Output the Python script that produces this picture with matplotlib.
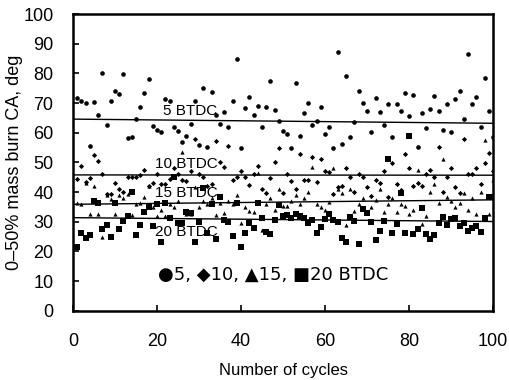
import numpy as np
import matplotlib
matplotlib.use("Agg")
import matplotlib.pyplot as plt

plt.rcParams['font.family'] = ['Liberation Sans Narrow', 'Liberation Sans', 'DejaVu Sans']

# Data (cycle 1..100)
cycles = np.arange(1, 101)

bt5 = [71.7, 70.7, 70.0, 55.6, 70.4, 66.0, 80.1, 62.6, 70.7, 74.0,
       73.0, 79.8, 58.2, 58.6, 64.6, 68.7, 73.4, 78.0, 62.3, 61.0,
       60.3, 71.4, 70.7, 62.0, 60.6, 57.0, 59.0, 63.0, 70.7, 55.9,
       75.0, 55.2, 73.7, 66.0, 63.0, 67.0, 62.0, 70.7, 84.8, 54.9,
       68.3, 72.0, 66.0, 69.0, 62.0, 68.7, 77.4, 67.7, 64.0, 60.6,
       59.6, 54.9, 76.8, 58.9, 66.7, 70.0, 62.5, 64.0, 68.7, 59.6,
       62.0, 54.9, 87.2, 56.2, 79.1, 58.6, 63.5, 74.0, 70.0, 67.3,
       60.3, 71.7, 67.0, 62.6, 69.7, 58.5, 69.7, 67.3, 73.4, 65.5,
       72.7, 55.2, 66.7, 61.6, 68.0, 72.4, 67.3, 60.9, 69.7, 60.3,
       71.4, 74.0, 64.6, 86.5, 69.7, 72.0, 62.0, 78.5, 67.3, 58.5]

bt10 = [44.4, 48.8, 43.4, 44.8, 52.5, 50.5, 46.0, 39.4, 39.4, 43.0,
        41.0, 40.0, 45.0, 45.0, 45.0, 45.8, 47.5, 42.0, 43.0, 46.0,
        42.8, 42.8, 44.4, 48.0, 46.0, 44.0, 43.7, 47.0, 57.9, 46.0,
        45.0, 42.0, 42.7, 57.2, 50.2, 48.5, 55.6, 44.0, 45.0, 47.1,
        45.0, 42.4, 46.0, 48.8, 41.0, 39.7, 44.8, 50.2, 54.9, 39.7,
        46.0, 43.7, 41.0, 52.9, 44.0, 44.0, 51.9, 43.4, 51.2, 47.1,
        46.8, 39.4, 41.8, 42.0, 48.0, 45.0, 40.0, 46.0, 45.0, 41.7,
        38.7, 44.0, 43.0, 47.0, 38.4, 49.8, 42.7, 40.7, 52.9, 48.1,
        42.0, 43.0, 42.0, 46.0, 47.5, 45.0, 55.2, 40.0, 45.0, 48.0,
        41.7, 39.7, 57.9, 46.0, 46.0, 48.1, 42.7, 49.8, 53.2, 47.0]

bt15 = [36.4, 36.0, 43.0, 32.7, 42.0, 32.7, 25.0, 39.0, 37.7, 32.7,
        39.0, 38.0, 39.4, 32.3, 36.0, 36.5, 38.4, 42.0, 35.0, 32.0,
        34.0, 32.0, 36.0, 35.0, 37.0, 53.5, 32.7, 32.7, 41.7, 35.0,
        37.0, 36.0, 38.0, 32.3, 36.5, 33.0, 37.0, 36.0, 39.0, 29.6,
        35.0, 33.7, 33.3, 46.5, 27.3, 36.0, 38.0, 34.0, 41.0, 35.4,
        35.4, 37.0, 39.0, 36.0, 38.0, 40.0, 48.5, 36.0, 35.0, 34.0,
        36.7, 48.1, 41.0, 39.7, 29.0, 41.0, 33.7, 36.0, 38.0, 33.0,
        35.0, 37.5, 41.0, 33.3, 36.0, 38.0, 33.3, 36.0, 35.4, 32.7,
        34.0, 47.5, 29.3, 32.0, 40.0, 42.7, 36.4, 51.2, 38.4, 37.0,
        35.0, 36.5, 39.7, 34.0, 38.0, 32.7, 40.0, 57.6, 32.7, 44.0]

bt20 = [21.5, 26.2, 24.6, 25.6, 37.0, 36.4, 27.6, 29.0, 25.0, 36.4,
        27.6, 30.3, 32.0, 40.0, 25.6, 29.0, 33.3, 35.0, 28.6, 36.0,
        23.2, 36.4, 31.3, 45.0, 29.6, 29.6, 33.3, 33.0, 23.2, 30.0,
        41.4, 26.2, 36.0, 24.2, 38.4, 30.6, 30.0, 25.3, 36.4, 21.5,
        26.2, 29.6, 28.0, 36.4, 31.3, 26.6, 25.9, 30.6, 35.7, 32.0,
        32.3, 31.3, 32.7, 32.0, 31.3, 29.6, 30.6, 26.2, 28.3, 31.0,
        32.7, 30.6, 30.0, 24.6, 23.2, 31.6, 30.3, 22.6, 34.3, 33.0,
        30.0, 23.9, 26.9, 30.3, 51.2, 26.2, 29.3, 39.7, 26.2, 58.9,
        25.9, 27.6, 34.7, 25.9, 24.2, 25.6, 29.6, 31.6, 29.0, 31.0,
        31.3, 28.6, 29.6, 26.9, 27.9, 28.6, 26.6, 31.3, 38.4, 38.4]

# trend lines (start at cycle 0, end at cycle 100)
trend_x = [0, 100]
trend5 = [64.6, 63.2]
trend10 = [45.8, 45.7]
trend15 = [35.9, 37.4]
trend20 = [31.4, 30.1]

labels = ['5 BTDC', '10 BTDC', '15 BTDC', '20 BTDC']
label_pos = [(21.4, 67.3), (19.5, 49.6), (19.5, 39.6), (19.5, 26.4)]

fig = plt.figure(figsize=(5.1, 3.8), dpi=100)
ax = fig.add_axes([0.143, 0.182, 0.824, 0.781])

ax.scatter(cycles, bt5, marker='o', s=11, c='black', linewidths=0)
ax.scatter(cycles, bt10, marker='D', s=7, c='black', linewidths=0)
ax.scatter(cycles, bt15, marker='^', s=9, c='black', linewidths=0)
ax.scatter(cycles, bt20, marker='s', s=16, c='black', linewidths=0)

for t in [trend5, trend10, trend15, trend20]:
    ax.plot(trend_x, t, color='black', lw=1.0)

for lab, (x, y) in zip(labels, label_pos):
    ax.text(x, y, lab, fontsize=11, va='center', ha='left')

ax.text(47.6, 12.1, '●5, ◆10, ▲15, ■20 BTDC', fontsize=13, ha='center', va='center',
        family=['Liberation Sans Narrow', 'DejaVu Sans'])

ax.set_xlim(0, 100)
ax.set_ylim(0, 100)
ax.set_xticks(range(0, 101, 20))
ax.set_yticks(range(0, 101, 10))
ax.tick_params(direction='in', length=4, width=1.2, labelsize=13)
ax.tick_params(axis='x', pad=16)
ax.tick_params(axis='y', pad=14)
for sp in ax.spines.values():
    sp.set_linewidth(1.8)

ax.set_xlabel('Number of cycles', fontsize=12, labelpad=9)
ax.set_ylabel('0\u201350% mass burn CA, deg', fontsize=13, labelpad=0)

fig.savefig('out.png', dpi=100)
